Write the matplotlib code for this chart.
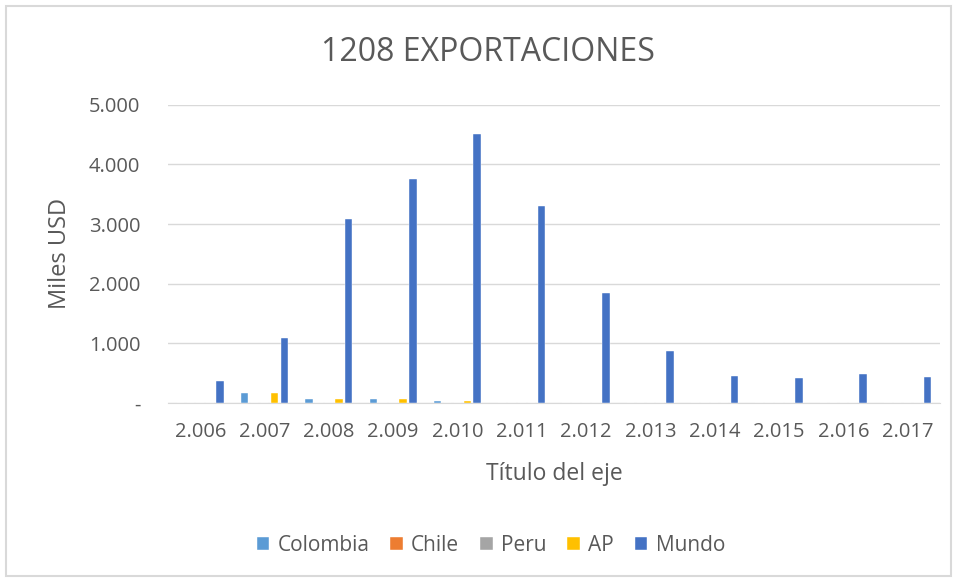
import numpy as np
import matplotlib.pyplot as plt
from matplotlib.patches import Rectangle
from matplotlib.ticker import FuncFormatter

years = ["2.006", "2.007", "2.008", "2.009", "2.010", "2.011",
         "2.012", "2.013", "2.014", "2.015", "2.016", "2.017"]
colombia = [0, 160, 70, 70, 28, 0, 0, 0, 0, 0, 0, 0]
chile = [0, 0, 0, 0, 0, 0, 0, 0, 0, 0, 0, 0]
peru = [0, 0, 0, 0, 0, 0, 0, 0, 0, 0, 0, 0]
ap = [0, 160, 70, 70, 28, 0, 0, 0, 0, 0, 0, 0]
mundo = [370, 1085, 3090, 3760, 4510, 3305, 1845, 875, 455, 420, 490, 440]

series = [("Colombia", colombia, "#5B9BD5"),
          ("Chile", chile, "#ED7D31"),
          ("Peru", peru, "#A5A5A5"),
          ("AP", ap, "#FFC000"),
          ("Mundo", mundo, "#4472C4")]

plt.rcParams['font.family'] = ['Open Sans', 'DejaVu Sans']
txt = "#595959"

fig = plt.figure(figsize=(9.55, 5.79), dpi=100)
ax = fig.add_axes([0.176, 0.304, 0.808, 0.515])

x = np.arange(len(years))
slot = 0.154
w = 0.117
for i, (name, vals, col) in enumerate(series):
    ax.bar(x + (i - 2) * slot, vals, width=w, color=col, label=name,
           edgecolor="white", linewidth=0.3, zorder=3)

ax.set_xlim(-0.5, len(years) - 0.5)
ax.set_ylim(0, 5000)
ax.set_yticks(range(0, 5001, 1000))
ax.yaxis.set_major_formatter(FuncFormatter(
    lambda v, p: "-" if v == 0 else f"{int(v):,}".replace(",", ".")))
ax.set_xticks(x)
ax.set_xticklabels(years)
ax.grid(axis="y", color="#D9D9D9", linewidth=1, zorder=0)
for s in ["top", "right", "left"]:
    ax.spines[s].set_visible(False)
ax.spines["bottom"].set_color("#D9D9D9")
ax.tick_params(axis="both", length=0, labelsize=14.5, colors=txt)
ax.tick_params(axis="y", pad=20)
ax.tick_params(axis="x", pad=14)

ax.set_ylabel("Miles USD", fontsize=17, color=txt, labelpad=12)
ax.set_xlabel("Título del eje", fontsize=16.5, color=txt, labelpad=14)
fig.text(0.511, 0.91, "1208 EXPORTACIONES", ha="center", va="center",
         fontsize=23, color=txt)

ax.legend(loc="center", bbox_to_anchor=(0.514, 0.058), bbox_transform=fig.transFigure,
          ncol=5, frameon=False, fontsize=15, labelcolor=txt,
          handlelength=0.6, handleheight=0.6, handletextpad=0.4, columnspacing=1.0)

fig.patches.append(Rectangle((0.006, 0.005), 0.99, 0.985, transform=fig.transFigure,
                             fill=False, edgecolor="#D9D9D9", linewidth=1.5))

fig.savefig("out.png", dpi=100)
